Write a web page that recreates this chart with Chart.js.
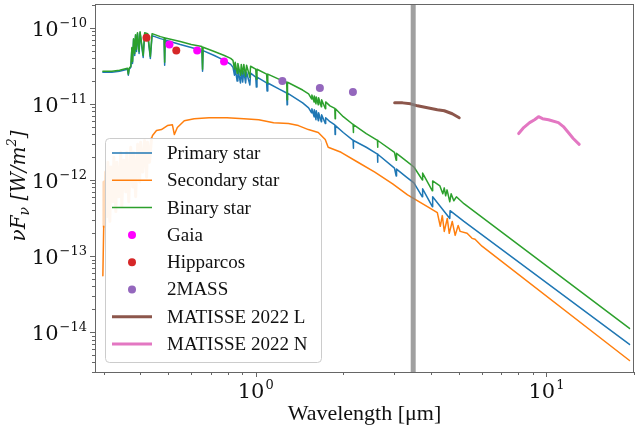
<!DOCTYPE html>
<html>
<head>
<meta charset="utf-8">
<script src="https://cdn.jsdelivr.net/npm/chart.js@4.4.0/dist/chart.umd.min.js"></script>
<style>
  body { margin: 0; background: #fff; }
  #wrap { width: 638px; height: 432px; }
</style>
</head>
<body>
<div id="wrap"><canvas id="sedChart"></canvas></div>
<script>
// spectra: [wavelength in µm, nuFnu in W/m^2]
const primaryStar = [
  [0.298, 2.61e-11], [0.32, 2.61e-11], [0.34, 2.68e-11], [0.362, 2.85e-11], [0.3646, 2.38e-11],
  [0.367, 2.85e-11], [0.372, 3.03e-11], [0.375, 5.33e-11], [0.377, 3.40e-11], [0.380, 6.98e-11],
  [0.3835, 4.32e-11], [0.386, 7.87e-11], [0.3889, 4.88e-11], [0.392, 8.36e-11], [0.397, 4.60e-11],
  [0.400, 8.61e-11], [0.4101, 4.07e-11], [0.415, 8.36e-11], [0.425, 8.11e-11], [0.434, 3.95e-11],
  [0.44, 7.87e-11], [0.47, 7.19e-11], [0.484, 6.98e-11], [0.4861, 3.21e-11], [0.488, 6.90e-11],
  [0.55, 6.01e-11], [0.60, 5.50e-11], [0.653, 5.02e-11], [0.6563, 2.68e-11], [0.659, 5.00e-11],
  [0.72, 4.32e-11], [0.78, 3.73e-11], [0.82, 3.30e-11], [0.835, 3.03e-11], [0.845, 2.38e-11],
  [0.85, 2.94e-11], [0.863, 1.99e-11], [0.868, 2.85e-11], [0.886, 1.88e-11], [0.892, 2.77e-11],
  [0.9015, 1.93e-11], [0.91, 2.68e-11], [0.9229, 1.88e-11], [0.93, 2.61e-11], [0.9546, 1.77e-11],
  [0.96, 2.53e-11], [1.00, 2.24e-11], [1.0049, 1.66e-11], [1.01, 2.24e-11], [1.09, 1.88e-11],
  [1.0938, 1.48e-11], [1.10, 1.88e-11], [1.20, 1.57e-11], [1.278, 1.39e-11], [1.2818, 9.70e-12],
  [1.286, 1.38e-11], [1.45, 1.03e-11], [1.52, 8.87e-12], [1.556, 7.64e-12], [1.56, 8.61e-12],
  [1.588, 6.78e-12], [1.59, 8.36e-12], [1.611, 6.19e-12], [1.615, 8.11e-12], [1.641, 6.01e-12],
  [1.645, 7.64e-12], [1.681, 5.83e-12], [1.685, 7.19e-12], [1.736, 5.50e-12], [1.74, 6.58e-12],
  [1.80, 5.83e-12], [1.871, 5.30e-12], [1.875, 3.95e-12], [1.88, 5.18e-12], [2.0, 4.20e-12],
  [2.162, 3.32e-12], [2.166, 2.61e-12], [2.17, 3.30e-12], [2.4, 2.69e-12], [2.622, 2.19e-12],
  [2.626, 1.71e-12], [2.63, 2.18e-12], [3.0, 1.43e-12], [3.04, 1.13e-12], [3.05, 1.39e-12],
  [3.3, 1.09e-12], [3.5, 9.14e-13], [3.74, 6.01e-13], [3.75, 7.64e-13], [4.05, 4.46e-13],
  [4.06, 6.01e-13], [4.65, 3.12e-13], [4.66, 3.95e-13], [5.2, 2.85e-13], [19.3, 6.9e-15]
];
const secondaryStar = [
  [0.298, 5.50e-14], [0.300, 2.46e-13], [0.3005, 9.42e-13], [0.3029, 2.46e-13], [0.3052, 1.27e-12],
  [0.3076, 3.30e-13], [0.3100, 1.71e-12], [0.3149, 2.85e-13], [0.3174, 1.48e-12], [0.3224, 5.18e-13],
  [0.3250, 1.99e-12], [0.3302, 3.84e-13], [0.3328, 1.71e-12], [0.3381, 6.01e-13], [0.3434, 2.31e-12],
  [0.3462, 4.46e-13], [0.3517, 1.82e-12], [0.3573, 6.98e-13], [0.3601, 2.31e-12], [0.3658, 5.18e-13],
  [0.3715, 2.69e-12], [0.3774, 8.11e-13], [0.3803, 2.31e-12], [0.3864, 6.01e-13], [0.3925, 2.94e-12],
  [0.3988, 9.42e-13], [0.4019, 3.12e-12], [0.4083, 1.27e-12], [0.4147, 3.30e-12], [0.4213, 1.09e-12],
  [0.4246, 3.12e-12], [0.4313, 1.71e-12], [0.4381, 3.51e-12], [0.4416, 3.84e-12], [0.4557, 4.46e-12],
  [0.4739, 4.59e-12], [0.497, 5.18e-12], [0.5167, 5.33e-12], [0.525, 3.95e-12], [0.5375, 4.88e-12],
  [0.5679, 6.01e-12], [0.6142, 6.38e-12], [0.6911, 6.58e-12], [0.7963, 6.58e-12], [0.91, 6.38e-12],
  [1.024, 6.19e-12], [1.152, 5.66e-12], [1.296, 5.50e-12], [1.402, 5.18e-12], [1.517, 4.59e-12],
  [1.641, 4.20e-12], [1.734, 3.40e-12], [1.775, 2.69e-12], [1.966, 2.31e-12], [2.246, 1.71e-12],
  [2.568, 1.27e-12], [2.958, 8.87e-13], [3.328, 6.38e-13], [3.894, 4.46e-13], [4.213, 3.73e-13],
  [4.313, 2.46e-13], [4.382, 3.40e-13], [4.451, 2.11e-13], [4.558, 3.12e-13], [4.630, 1.99e-13],
  [4.741, 2.85e-13], [4.853, 1.87e-13], [4.969, 2.53e-13], [5.048, 2.11e-13], [5.333, 1.99e-13],
  [5.546, 1.71e-13], [5.68, 1.66e-13], [6.0, 1.35e-13], [19.3, 4.25e-15]
];
const binaryStar = [
  [0.298, 2.68e-11], [0.32, 2.68e-11], [0.34, 2.77e-11], [0.362, 2.94e-11], [0.3646, 2.46e-11],
  [0.367, 2.94e-11], [0.372, 3.12e-11], [0.375, 5.50e-11], [0.377, 3.61e-11], [0.380, 7.19e-11],
  [0.3835, 4.60e-11], [0.386, 8.11e-11], [0.3889, 5.18e-11], [0.392, 8.61e-11], [0.397, 4.88e-11],
  [0.400, 8.87e-11], [0.4101, 4.32e-11], [0.415, 8.61e-11], [0.425, 8.36e-11], [0.434, 4.20e-11],
  [0.44, 8.36e-11], [0.47, 7.64e-11], [0.484, 7.41e-11], [0.4861, 3.51e-11], [0.488, 7.35e-11],
  [0.55, 6.58e-11], [0.60, 6.01e-11], [0.653, 5.66e-11], [0.6563, 2.85e-11], [0.659, 5.55e-11],
  [0.72, 4.88e-11], [0.78, 4.32e-11], [0.82, 3.95e-11], [0.835, 3.73e-11], [0.845, 2.85e-11],
  [0.85, 3.51e-11], [0.863, 2.53e-11], [0.868, 3.40e-11], [0.886, 2.38e-11], [0.892, 3.30e-11],
  [0.9015, 2.46e-11], [0.91, 3.30e-11], [0.9229, 2.31e-11], [0.93, 3.21e-11], [0.9546, 2.24e-11],
  [0.96, 3.12e-11], [1.00, 2.85e-11], [1.0049, 2.11e-11], [1.01, 2.85e-11], [1.09, 2.46e-11],
  [1.0938, 1.88e-11], [1.10, 2.46e-11], [1.20, 2.11e-11], [1.278, 1.93e-11], [1.2818, 1.13e-11],
  [1.286, 1.92e-11], [1.45, 1.52e-11], [1.52, 1.35e-11], [1.556, 1.16e-11], [1.56, 1.31e-11],
  [1.588, 1.06e-11], [1.59, 1.27e-11], [1.611, 1.00e-11], [1.615, 1.23e-11], [1.641, 9.70e-12],
  [1.645, 1.20e-11], [1.681, 9.14e-12], [1.685, 1.13e-11], [1.736, 8.61e-12], [1.74, 1.06e-11],
  [1.80, 9.42e-12], [1.871, 8.70e-12], [1.875, 6.38e-12], [1.88, 8.61e-12], [2.0, 6.78e-12],
  [2.162, 5.35e-12], [2.166, 4.20e-12], [2.17, 5.33e-12], [2.4, 4.07e-12], [2.622, 3.32e-12],
  [2.626, 2.69e-12], [2.63, 3.30e-12], [3.0, 2.31e-12], [3.04, 1.82e-12], [3.05, 2.24e-12],
  [3.3, 1.77e-12], [3.5, 1.48e-12], [3.74, 1.00e-12], [3.75, 1.23e-12], [4.05, 7.19e-13],
  [4.06, 9.70e-13], [4.3, 8.36e-13], [4.4, 6.58e-13], [4.45, 7.87e-13], [4.5, 6.19e-13],
  [4.55, 7.41e-13], [4.65, 5.18e-13], [4.7, 6.58e-13], [4.8, 5.33e-13], [4.9, 6.01e-13],
  [5.2, 4.88e-13], [19.3, 1.12e-14]
];

// photometry
const gaia = [[0.505, 6.01e-11], [0.629, 5.02e-11], [0.778, 3.61e-11]];
const hipparcos = [[0.421, 7.41e-11], [0.533, 5.02e-11]];
const twoMass = [[1.235, 1.99e-11], [1.662, 1.61e-11], [2.159, 1.43e-11]];

// interferometric spectra
const matisseL = [
  [3.005, 1.03e-11], [3.2, 1.03e-11], [3.408, 1.00e-11], [3.6, 9.42e-12], [3.894, 8.87e-12],
  [4.213, 8.36e-12], [4.451, 8.11e-12], [4.741, 7.41e-12], [5.01, 6.58e-12]
];
const matisseN = [
  [8.024, 4.07e-12], [8.35, 4.88e-12], [8.75, 5.66e-12], [9.1, 6.19e-12], [9.39, 6.78e-12],
  [9.69, 6.38e-12], [10.16, 6.19e-12], [10.99, 5.66e-12], [11.43, 5.03e-12], [11.89, 4.20e-12],
  [12.36, 3.51e-12], [12.96, 2.94e-12]
];

const bandWave = 3.48;
const xMin = 0.28, xMax = 20;
const yMin = 3.0e-15, yMax = 2.05e-10;
const xMajorTicks = [1, 10];
const yMajorTicks = [1e-14, 1e-13, 1e-12, 1e-11, 1e-10];

const axisColor = '#666';
const textColor = '#111';
const toXY = pts => pts.map(p => ({ x: p[0], y: p[1] }));

function lineSet(label, pts, color, width, order) {
  return {
    label, data: toXY(pts), showLine: true, borderColor: color, backgroundColor: color,
    borderWidth: width, pointRadius: 0, pointHoverRadius: 0, order,
    borderJoinStyle: 'round', borderCapStyle: 'round', kind: 'line'
  };
}
function dotSet(label, pts, color, order) {
  return {
    label, data: toXY(pts), showLine: false, backgroundColor: color, borderColor: color,
    borderWidth: 0, pointRadius: 4, pointHoverRadius: 4, order, kind: 'dot'
  };
}

const secondary = lineSet('Secondary star', secondaryStar, '#ff7f0e', 1.5, 7);
// the noisy UV part of the cool companion shows up very pale
const paleUV = c => c.p0.parsed.x >= 0.3 && c.p1.parsed.x <= 0.4381;
secondary.segment = {
  borderColor: c => paleUV(c) ? 'rgba(255,127,14,0.3)' : undefined,
  borderWidth: c => paleUV(c) ? 3 : undefined
};

function powerLabel(ctx, exp, x, y, align) {
  const base = '10';
  const sup = exp < 0 ? '\u2212' + Math.abs(exp) : String(exp);
  ctx.font = '21px "DejaVu Serif"';
  const wb = ctx.measureText(base).width;
  ctx.font = '13px "DejaVu Serif"';
  const ws = ctx.measureText(sup).width;
  const total = wb + ws + 1;
  const left = align === 'right' ? x - total : x - total / 2;
  ctx.font = '21px "DejaVu Serif"';
  ctx.fillText(base, left, y);
  ctx.font = '13px "DejaVu Serif"';
  ctx.fillText(sup, left + wb + 1, y - 9);
}

function minorValues(min, max) {
  const vals = [];
  for (let d = Math.floor(Math.log10(min)); d <= Math.ceil(Math.log10(max)); d++) {
    for (let k = 1; k <= 9; k++) {
      const v = k * Math.pow(10, d);
      if (v >= min && v <= max) vals.push(v);
    }
  }
  return vals;
}

const sedDecor = {
  id: 'sedDecor',
  afterDatasetsDraw(chart) {
    const { ctx, chartArea: a, scales: { x } } = chart;
    const bx = x.getPixelForValue(bandWave);
    ctx.save();
    ctx.fillStyle = 'rgba(128,128,128,0.75)';
    ctx.fillRect(bx - 2.5, a.top, 5, a.bottom - a.top);
    ctx.restore();
  },
  afterDraw(chart) {
    const { ctx, chartArea: a, scales: { x, y } } = chart;
    ctx.save();

    // frame
    ctx.strokeStyle = axisColor;
    ctx.lineWidth = 1;
    ctx.strokeRect(a.left + 0.5, a.top + 0.5, a.right - a.left - 1, a.bottom - a.top);

    // tick marks
    const isMajor = v => Math.abs(Math.log10(v) - Math.round(Math.log10(v))) < 1e-6;
    ctx.beginPath();
    minorValues(xMin, xMax).forEach(v => {
      const px = Math.round(x.getPixelForValue(v)) + 0.5;
      ctx.moveTo(px, a.bottom);
      ctx.lineTo(px, a.bottom + (isMajor(v) ? 5 : 3));
    });
    minorValues(yMin, yMax).forEach(v => {
      const py = Math.round(y.getPixelForValue(v)) + 0.5;
      ctx.moveTo(a.left, py);
      ctx.lineTo(a.left - (isMajor(v) ? 5 : 3), py);
    });
    ctx.stroke();

    // tick labels
    ctx.fillStyle = textColor;
    ctx.textBaseline = 'alphabetic';
    ctx.textAlign = 'left';
    xMajorTicks.forEach(v => powerLabel(ctx, Math.round(Math.log10(v)), x.getPixelForValue(v), a.bottom + 26, 'center'));
    yMajorTicks.forEach(v => powerLabel(ctx, Math.round(Math.log10(v)), a.left - 8, y.getPixelForValue(v) + 8, 'right'));

    // axis titles
    ctx.font = '22px "Liberation Serif"';
    ctx.textAlign = 'center';
    ctx.fillText('Wavelength [\u03bcm]', (a.left + a.right) / 2, 420);

    ctx.save();
    ctx.translate(25, 186);
    ctx.rotate(-Math.PI / 2);
    const parts = [
      { t: '\u03bdF', f: 'italic 20px "DejaVu Serif"', dy: 0 },
      { t: '\u03bd', f: 'italic 14px "DejaVu Serif"', dy: 4 },
      { t: ' [W/m', f: 'italic 20px "DejaVu Serif"', dy: 0 },
      { t: '2', f: 'italic 13px "DejaVu Serif"', dy: -9 },
      { t: ']', f: 'italic 20px "DejaVu Serif"', dy: 0 }
    ];
    let tw = 0;
    parts.forEach(p => { ctx.font = p.f; p.w = ctx.measureText(p.t).width; tw += p.w; });
    let cx = -tw / 2;
    ctx.textAlign = 'left';
    parts.forEach(p => { ctx.font = p.f; ctx.fillText(p.t, cx, p.dy); cx += p.w; });
    ctx.restore();

    // legend
    const lx = 105, ly = 138, lw = 216, lh = 224;
    ctx.beginPath();
    ctx.roundRect(lx + 0.5, ly + 0.5, lw, lh, 4);
    ctx.fillStyle = 'rgba(255,255,255,0.8)';
    ctx.fill();
    ctx.strokeStyle = '#cccccc';
    ctx.stroke();
    ctx.textAlign = 'left';
    ctx.textBaseline = 'middle';
    ctx.font = '19px "Liberation Serif"';
    chart.data.datasets.forEach((ds, i) => {
      const ry = 153 + i * 27.3;
      if (ds.kind === 'line') {
        ctx.strokeStyle = ds.borderColor;
        ctx.lineWidth = ds.borderWidth;
        ctx.beginPath();
        ctx.moveTo(112, ry);
        ctx.lineTo(152, ry);
        ctx.stroke();
      } else {
        ctx.fillStyle = ds.backgroundColor;
        ctx.beginPath();
        ctx.arc(132, ry, 4, 0, Math.PI * 2);
        ctx.fill();
      }
      ctx.fillStyle = textColor;
      ctx.fillText(ds.label, 167, ry + 1);
    });

    ctx.restore();
  }
};

new Chart(document.getElementById('sedChart'), {
  type: 'scatter',
  data: {
    datasets: [
      lineSet('Primary star', primaryStar, '#1f77b4', 1.5, 8),
      secondary,
      lineSet('Binary star', binaryStar, '#2ca02c', 1.5, 6),
      dotSet('Gaia', gaia, '#ff00ff', 5),
      dotSet('Hipparcos', hipparcos, '#d62728', 4),
      dotSet('2MASS', twoMass, '#9467bd', 3),
      lineSet('MATISSE 2022 L', matisseL, '#8c564b', 3, 2),
      lineSet('MATISSE 2022 N', matisseN, '#e377c2', 3, 1)
    ]
  },
  options: {
    animation: false,
    responsive: true,
    maintainAspectRatio: false,
    events: [],
    layout: { padding: 0 },
    plugins: { legend: { display: false }, tooltip: { enabled: false } },
    scales: {
      x: {
        type: 'logarithmic', min: xMin, max: xMax,
        grid: { display: false }, border: { display: false }, ticks: { display: false },
        afterFit: s => { s.height = 60; }
      },
      y: {
        type: 'logarithmic', min: yMin, max: yMax,
        grid: { display: false }, border: { display: false }, ticks: { display: false },
        afterFit: s => { s.width = 95; }
      }
    }
  },
  plugins: [sedDecor]
});
</script>
</body>
</html>
